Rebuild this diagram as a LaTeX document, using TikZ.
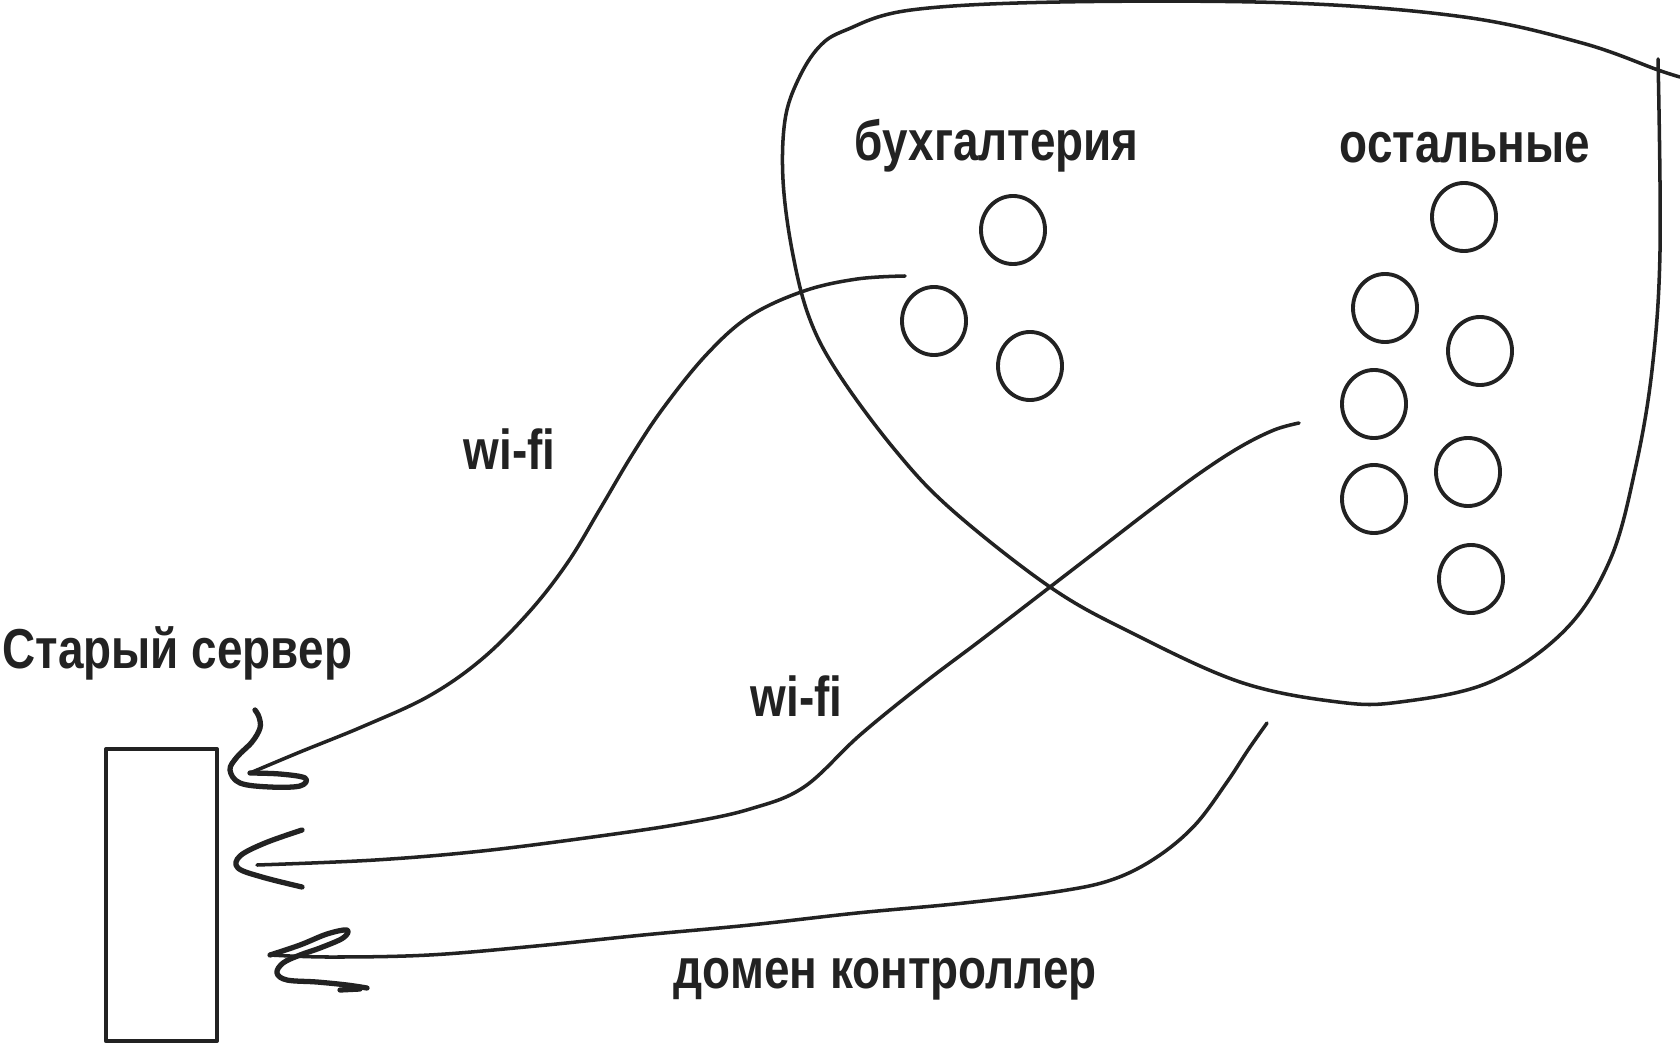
\documentclass[tikz,border=0pt]{standalone}
\usepackage{fontspec}
\usepackage{graphicx}
\setmainfont{Liberation Sans}
\usetikzlibrary{shapes.geometric}
\definecolor{ink}{RGB}{34,34,34}
\newcommand{\sq}[1]{\scalebox{0.815}[1]{#1}}
\begin{document}
\begin{tikzpicture}[x=0.01cm,y=-0.01cm,line join=round,line cap=round,
  lbl/.style={anchor=base west,inner sep=0pt,text=ink,font=\fontsize{16}{19}\selectfont\bfseries},
  pc/.style={draw=ink,ellipse,line width=1.1pt,minimum width=0.64cm,minimum height=0.68cm,inner sep=0pt},
  wire/.style={draw=ink,line width=1pt},
  head/.style={draw=ink,line width=1.5pt},
  blob/.style={draw=ink,line width=1pt}]
\useasboundingbox (0,0) rectangle (1680,1043);
\fill[white] (0,0) rectangle (1680,1043);

% outline of the office
\draw[blob] plot[smooth,tension=0.6] coordinates {
 (1658,59) (1660,250) (1652,370) (1635,470) (1610,560) (1565,630) (1490,682)
 (1400,702) (1338,702) (1240,682) (1130,632) (1050,587) (952,510) (895,450)
 (838,373) (809,317) (792,250) (783,180) (785,120) (798,80) (819,47) (846,30)
 (911,10) (1060,2) (1290,3) (1464,17) (1582,43) (1658,70) (1680,77)};

% labels
\node[lbl] (old) at (2,668) {\sq{Старый сервер}};
\node[lbl] (buh) at (854,161) {\sq{бухгалтерия}};
\node[lbl] (ost) at (1339,163) {\sq{остальные}};
\node[lbl] (wf1) at (463,469) {\sq{wi-fi}};
\node[lbl] (wf2) at (750,716) {\sq{wi-fi}};
\node[lbl] (dom) at (673,988) {\sq{домен контроллер}};

% server
\node[draw=ink,line width=1.1pt,minimum width=1.11cm,minimum height=2.92cm,inner sep=0pt,anchor=north west] (srv) at (104,747) {};

% computers
\node[pc] (b1) at (1013,230) {};
\node[pc] (b2) at (934,321) {};
\node[pc] (b3) at (1030,366) {};
\node[pc] (o1) at (1464,217) {};
\node[pc] (o2) at (1385,308) {};
\node[pc] (o3) at (1480,351) {};
\node[pc] (o4) at (1374,404) {};
\node[pc] (o5) at (1468,472) {};
\node[pc] (o6) at (1374,499) {};
\node[pc] (o7) at (1471,579) {};

% connector ends
\coordinate (w1s) at (905,276);
\coordinate (w1t) at (250,773);
\coordinate (w2s) at (1299,423);
\coordinate (w2t) at (257,865);
\coordinate (dcs) at (1267,723);
\coordinate (dct) at (270,955);

% wi-fi from accounting
\draw[wire] plot[smooth,tension=0.6] coordinates {
 (w1s) (857,279) (804,291) (750,316) (707,354) (664,407) (632,455) (600,509)
 (568,562) (530,611) (482,659) (429,696) (364,726) (300,752) (w1t)};
\draw[head] plot[smooth,tension=0.6] coordinates {
 (w1t) (280,774) (305,778) (300,786) (270,787) (240,783) (230,770) (237,757)
 (252,742) (260,728) (259,717) (255,710)};

% wi-fi from the others
\draw[wire] plot[smooth,tension=0.6] coordinates {
 (w2s) (1274,430) (1240,447) (1200,473) (1154,507) (1102,547) (1050,587)
 (981,640) (924,683) (860,735) (804,787) (750,809) (686,823) (600,836)
 (482,851) (375,860) (w2t)};
\draw[head] plot[smooth,tension=0.6] coordinates {
 (302,830) (265,843) (240,856) (238,868) (262,877) (302,887)};

% domain controller
\draw[wire] plot[smooth,tension=0.6] coordinates {
 (dcs) (1248,750) (1227,782) (1195,825) (1157,857) (1114,879) (1061,891)
 (964,903) (857,913) (750,925) (643,935) (536,946) (429,955) (330,957) (dct)};
\draw[head] plot[smooth,tension=0.6] coordinates {
 (dct) (300,945) (327,934) (347,930) (343,938) (320,948) (300,955) (283,963)
 (277,973) (287,980) (317,982) (347,985) (367,988)};
\draw[head] (340,990) -- (360,989);
\end{tikzpicture}
\end{document}
